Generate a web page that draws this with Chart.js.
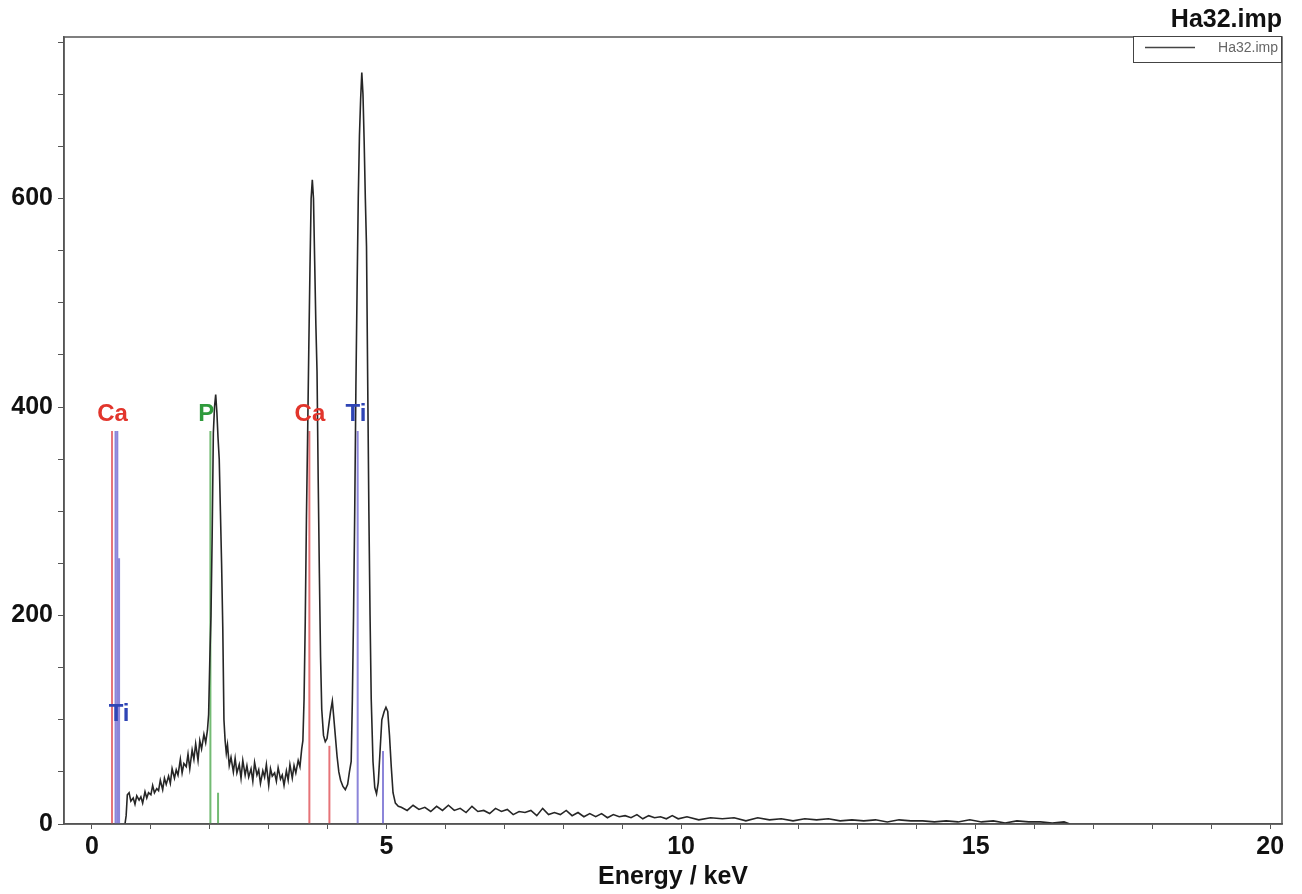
<!DOCTYPE html>
<html>
<head>
<meta charset="utf-8">
<script src="https://cdn.jsdelivr.net/npm/chart.js@4/dist/chart.umd.min.js"></script>
<style>
  html, body { margin: 0; padding: 0; background: #fff; }
  #wrap { width: 1302px; height: 894px; }
</style>
</head>
<body>
<div id="wrap"><canvas id="edsChart" width="1302" height="894"></canvas></div>
<script>
// EDS spectrum Ha32.imp (energy in keV, counts)
const energyKeV = [
  0.56, 0.58, 0.60, 0.63, 0.66, 0.70, 0.73, 0.76, 0.80, 0.83, 0.86, 0.90, 0.93, 0.96,
  1.00, 1.03, 1.06, 1.10, 1.13, 1.16, 1.20, 1.23, 1.26, 1.30, 1.33, 1.36, 1.40, 1.43,
  1.46, 1.50, 1.53, 1.56, 1.60, 1.63, 1.66, 1.70, 1.73, 1.76, 1.80, 1.83, 1.86, 1.90,
  1.93, 1.96, 1.98, 2.00, 2.02, 2.04, 2.06, 2.08, 2.10, 2.12, 2.14, 2.16, 2.18, 2.20,
  2.22, 2.24, 2.26, 2.28, 2.30, 2.33, 2.36, 2.40, 2.43, 2.46, 2.50, 2.53, 2.56, 2.60,
  2.63, 2.66, 2.70, 2.73, 2.76, 2.80, 2.83, 2.86, 2.90, 2.93, 2.96, 3.00, 3.03, 3.06,
  3.10, 3.13, 3.16, 3.20, 3.23, 3.26, 3.30, 3.33, 3.36, 3.40, 3.43, 3.46, 3.50, 3.53,
  3.56, 3.58, 3.60, 3.62, 3.64, 3.66, 3.68, 3.70, 3.72, 3.74, 3.76, 3.78, 3.80, 3.82,
  3.84, 3.86, 3.88, 3.90, 3.93, 3.96, 3.99, 4.02, 4.05, 4.08, 4.10, 4.13, 4.16, 4.19,
  4.22, 4.26, 4.30, 4.34, 4.37, 4.40, 4.42, 4.44, 4.46, 4.48, 4.50, 4.52, 4.54, 4.56,
  4.58, 4.60, 4.62, 4.64, 4.66, 4.68, 4.70, 4.72, 4.74, 4.77, 4.80, 4.83, 4.86, 4.89,
  4.92, 4.96, 4.99, 5.02, 5.05, 5.08, 5.11, 5.15, 5.20, 5.25, 5.35, 5.45, 5.55, 5.65,
  5.75, 5.85, 5.95, 6.05, 6.15, 6.25, 6.35, 6.45, 6.55, 6.65, 6.75, 6.85, 6.95, 7.05,
  7.15, 7.25, 7.35, 7.45, 7.55, 7.65, 7.75, 7.85, 7.95, 8.05, 8.15, 8.25, 8.35, 8.45,
  8.55, 8.65, 8.75, 8.85, 8.95, 9.05, 9.15, 9.25, 9.35, 9.45, 9.55, 9.65, 9.75, 9.85,
  9.95, 10.1, 10.3, 10.5, 10.7, 10.9, 11.1, 11.3, 11.5, 11.7, 11.9, 12.1, 12.3, 12.5,
  12.7, 12.9, 13.1, 13.3, 13.5, 13.7, 13.9, 14.1, 14.3, 14.5, 14.7, 14.9, 15.1, 15.3,
  15.5, 15.7, 15.9, 16.1, 16.3, 16.5, 16.6
];
const counts = [
  0, 8, 28, 30, 22, 25, 19, 27, 23, 26, 20, 31, 25, 30,
  28, 37, 30, 34, 32, 42, 33, 44, 38, 46, 39, 53, 44, 52,
  47, 62, 49, 58, 55, 67, 53, 71, 62, 77, 61, 80, 72, 86,
  78, 90, 105, 157, 200, 276, 375, 400, 412, 395, 370, 350, 300, 250,
  189, 100, 80, 68, 76, 56, 64, 50, 63, 49, 57, 44, 61, 47,
  56, 45, 53, 41, 59, 47, 52, 39, 51, 45, 57, 37, 53, 46,
  49, 41, 54, 43, 47, 37, 51, 42, 57, 44, 56, 49, 61, 55,
  72, 80, 120, 194, 292, 371, 455, 532, 600, 618, 600, 540, 480, 434,
  330, 240, 160, 110, 85, 79, 82, 95, 108, 118, 105, 85, 65, 50,
  42, 36, 33, 38, 50, 60, 120, 200, 300, 420, 513, 600, 660, 695,
  721, 700, 655, 600, 554, 426, 300, 200, 120, 60, 35, 29, 40, 70,
  100, 108, 112, 108, 85, 55, 30, 20, 17, 16, 13, 18, 14, 16,
  12, 17, 13, 18, 13, 15, 11, 17, 12, 13, 10, 15, 12, 14,
  9, 12, 11, 13, 8, 15, 9, 11, 9, 13, 8, 11, 7, 10,
  7, 10, 6, 9, 7, 8, 6, 9, 5, 8, 6, 7, 5, 8,
  5, 7, 4, 6, 5, 6, 3, 6, 4, 5, 3, 5, 4, 5,
  3, 4, 3, 4, 2, 4, 3, 3, 2, 3, 2, 4, 2, 3,
  1, 3, 2, 2, 1, 2, 0
];

// axis ticks
const xTickValues = [0, 1, 2, 3, 4, 5, 6, 7, 8, 9, 10, 11, 12, 13, 14, 15, 16, 17, 18, 19, 20];
const xTickLabels = [0, 5, 10, 15, 20];
const yTickValues = [0, 50, 100, 150, 200, 250, 300, 350, 400, 450, 500, 550, 600, 650, 700, 750];
const yTickLabels = [0, 200, 400, 600];

// element marker lines (KLM markers)
const markerElement = ['Ca', 'Ti', 'Ti', 'Ti', 'P', 'P', 'Ca', 'Ca', 'Ti', 'Ti'];
const markerEnergy  = [0.34, 0.40, 0.43, 0.46, 2.01, 2.14, 3.69, 4.03, 4.51, 4.94];
const markerHeight  = [377, 377, 377, 255, 377, 30, 377, 75, 377, 70];

// element labels
const labelText   = ['Ca', 'Ti', 'P', 'Ca', 'Ti'];
const labelEnergy = [0.35, 0.46, 1.94, 3.70, 4.48];
const labelCounts = [393, 105, 393, 393, 393];

const xMin = -0.475, xMax = 20.2;
const yMax = 755;

const lineColor = { Ca: 'rgba(226,90,96,0.85)', Ti: 'rgba(120,112,210,0.85)', P: 'rgba(90,175,90,0.85)' };
const textColor = { Ca: '#e2352c', Ti: '#2f45b5', P: '#2f9a3c' };
const FONT = "'Liberation Sans', Arial, sans-serif";

const markerSets = markerElement.map((el, i) => ({
  label: el,
  data: [{ x: markerEnergy[i], y: 0 }, { x: markerEnergy[i], y: markerHeight[i] }],
  borderColor: lineColor[el],
  borderWidth: 2,
  pointRadius: 0,
  order: 1,
}));

const framePlugin = {
  id: 'frameAndLabels',
  afterDatasetsDraw(chart) {
    const { ctx, chartArea: a, scales } = chart;
    ctx.save();
    ctx.strokeStyle = '#555';
    ctx.lineWidth = 1.5;
    ctx.strokeRect(a.left, a.top, a.right - a.left, a.bottom - a.top);

    ctx.font = `bold 24px ${FONT}`;
    ctx.textAlign = 'center';
    ctx.textBaseline = 'middle';
    labelText.forEach((t, i) => {
      ctx.fillStyle = textColor[t];
      ctx.fillText(t, scales.x.getPixelForValue(labelEnergy[i]), scales.y.getPixelForValue(labelCounts[i]));
    });

    // legend box, top right inside the frame
    const bx = a.right - 149, by = a.top - 1, bw = 149, bh = 27;
    ctx.fillStyle = '#fff';
    ctx.fillRect(bx, by, bw, bh);
    ctx.strokeStyle = '#444';
    ctx.lineWidth = 1;
    ctx.strokeRect(bx + 0.5, by + 0.5, bw - 1, bh - 1);
    ctx.strokeStyle = '#444';
    ctx.lineWidth = 1.5;
    ctx.beginPath();
    ctx.moveTo(bx + 12, by + 11.5);
    ctx.lineTo(bx + 62, by + 11.5);
    ctx.stroke();
    ctx.fillStyle = '#666';
    ctx.font = `14px ${FONT}`;
    ctx.textAlign = 'right';
    ctx.fillText('Ha32.imp', a.right - 4, by + 12);
    ctx.restore();
  }
};

new Chart(document.getElementById('edsChart'), {
  type: 'line',
  data: {
    datasets: [
      {
        label: 'Ha32.imp',
        data: energyKeV.map((e, i) => ({ x: e, y: counts[i] })),
        borderColor: '#262626',
        borderWidth: 1.6,
        pointRadius: 0,
        tension: 0,
        order: 0,
      },
      ...markerSets,
    ],
  },
  options: {
    responsive: false,
    animation: false,
    layout: { padding: { left: 0, right: 20, top: 0, bottom: 0 } },
    plugins: {
      legend: { display: false },
      tooltip: { enabled: false },
      title: {
        display: true,
        text: 'Ha32.imp',
        align: 'end',
        color: '#111',
        font: { family: FONT, size: 25, weight: 'bold', lineHeight: 1.2 },
        padding: { top: 5, bottom: 2 },
      },
    },
    scales: {
      x: {
        type: 'linear',
        min: xMin,
        max: xMax,
        afterBuildTicks: (s) => { s.ticks = xTickValues.map((v) => ({ value: v })); },
        afterFit: (s) => { s.height = 70; },
        border: { display: true, color: '#555', width: 1.5 },
        grid: { drawOnChartArea: false, drawTicks: true, tickLength: 5, color: '#555' },
        ticks: {
          autoSkip: false,
          maxRotation: 0,
          padding: 3,
          color: '#111',
          font: { family: FONT, size: 25, weight: 'bold' },
          callback: (v) => (xTickLabels.includes(v) ? v : ''),
        },
        title: {
          display: true,
          text: 'Energy / keV',
          color: '#111',
          font: { family: FONT, size: 25, weight: 'bold', lineHeight: 1.2 },
          padding: { top: 0, bottom: 2 },
        },
      },
      y: {
        min: 0,
        max: yMax,
        afterBuildTicks: (s) => { s.ticks = yTickValues.map((v) => ({ value: v })); },
        afterFit: (s) => { s.width = 64; },
        border: { display: true, color: '#555', width: 1.5 },
        grid: { drawOnChartArea: false, drawTicks: true, tickLength: 6, color: '#555' },
        ticks: {
          autoSkip: false,
          padding: 5,
          color: '#111',
          font: { family: FONT, size: 25, weight: 'bold' },
          callback: (v) => (yTickLabels.includes(v) ? v : ''),
        },
      },
    },
  },
  plugins: [framePlugin],
});
</script>
</body>
</html>
